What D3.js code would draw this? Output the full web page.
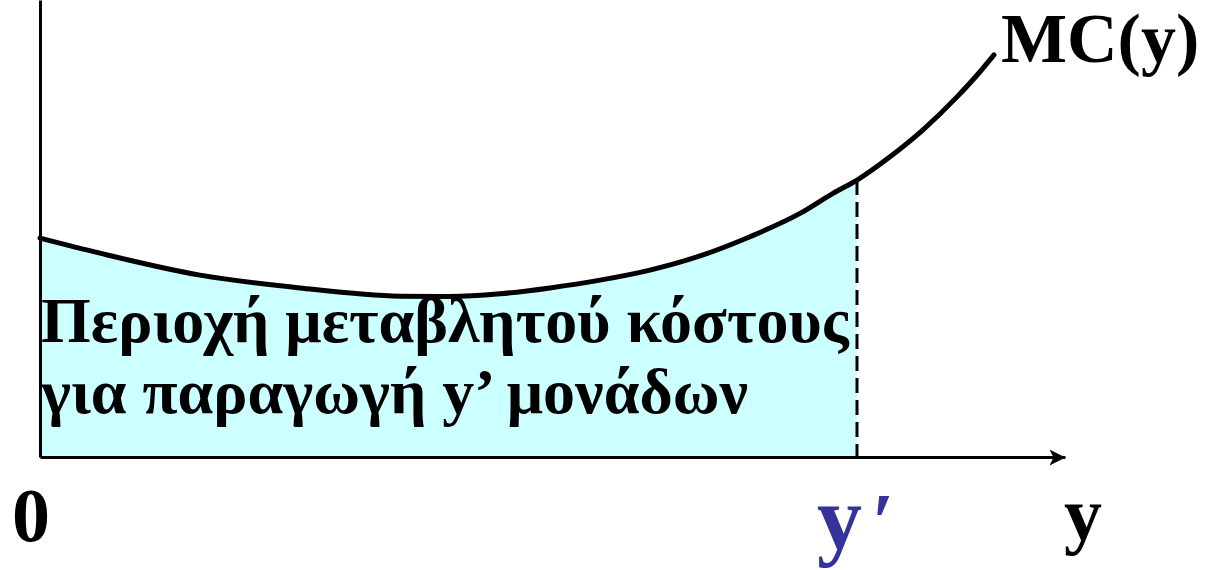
<!DOCTYPE html>
<meta charset="utf-8">
<style>
  body { margin: 0; background: #fff; }
  svg text { font-family: "Liberation Serif", "Times New Roman", serif; font-weight: bold; }
  .axis path { stroke: #000; stroke-width: 3; fill: none; }
</style>
<body>
<script src="https://cdnjs.cloudflare.com/ajax/libs/d3/7.8.5/d3.min.js"></script>
<script>
// output quantity and marginal cost
var quantity = [0, 0.6, 1.6, 2.6, 3.6, 4.1, 4.6, 5.1, 5.6, 6.1, 6.6, 7.1, 7.6, 7.93, 8.17, 8.5, 8.83, 9.17, 9.4, 9.54];
var marginalCost = [47.9, 44.6, 39.8, 37.0, 35.2, 35.1, 35.7, 37.0, 38.7, 40.9, 44.0, 48.2, 53.3, 57.7, 60.6, 65.7, 71.6, 78.8, 84.3, 88.0];
var yPrime = 8.17;
var areaLines = ["Περιοχή μεταβλητού κόστους", "για παραγωγή y’ μονάδων"];
var curveLabel = "MC(y)";
var xLabels = ["0", "y", "′", "y"];

var W = 1218, H = 570;
var x = d3.scaleLinear().domain([0, 10.25]).range([40, 1065]);
var y = d3.scaleLinear().domain([0, 100]).range([457, 0]);

var svg = d3.select("body").append("svg")
  .attr("width", W)
  .attr("height", H);

var data = quantity.map(function (q, i) { return {q: q, c: marginalCost[i]}; });

var defs = svg.append("defs");
defs.append("clipPath")
  .attr("id", "upto")
  .append("rect")
  .attr("x", x(0)).attr("y", 0)
  .attr("width", x(yPrime) - x(0)).attr("height", y(0));

var marker = defs.append("marker")
  .attr("id", "arrow")
  .attr("viewBox", "0 0 16 16")
  .attr("refX", 16).attr("refY", 8)
  .attr("markerWidth", 16).attr("markerHeight", 16)
  .attr("markerUnits", "userSpaceOnUse")
  .attr("orient", "auto");
marker.append("path").attr("d", "M0,0 L16,8 L0,16 L4,8 Z").attr("fill", "#000");

// shaded area (variable cost)
var area = d3.area()
  .x(function (d) { return x(d.q); })
  .y0(y(0))
  .y1(function (d) { return y(d.c); })
  .curve(d3.curveMonotoneX);

svg.append("path")
  .datum(data)
  .attr("clip-path", "url(#upto)")
  .attr("fill", "#ccffff")
  .attr("d", area);

// axes
svg.append("g")
  .attr("class", "axis")
  .attr("transform", "translate(0," + y(0) + ")")
  .call(d3.axisBottom(x).tickValues([]).tickSizeOuter(0))
  .select(".domain").attr("marker-end", "url(#arrow)");

svg.append("g")
  .attr("class", "axis")
  .attr("transform", "translate(" + x(0) + ",0)")
  .call(d3.axisLeft(y).tickValues([]).tickSizeOuter(0));

// dashed line at y'
var mcAtPrime = data.find(function (d) { return d.q === yPrime; }).c;
svg.append("line")
  .attr("x1", x(yPrime)).attr("x2", x(yPrime))
  .attr("y1", y(mcAtPrime)).attr("y2", y(0))
  .attr("stroke", "#000")
  .attr("stroke-width", 3)
  .attr("stroke-dasharray", "15,7");

// MC curve
var line = d3.line()
  .x(function (d) { return x(d.q); })
  .y(function (d) { return y(d.c); })
  .curve(d3.curveMonotoneX);

svg.append("path")
  .datum(data)
  .attr("fill", "none")
  .attr("stroke", "#000")
  .attr("stroke-width", 5)
  .attr("stroke-linecap", "round")
  .attr("d", line);

// labels
svg.append("text")
  .attr("x", 1001).attr("y", 62)
  .attr("font-size", 70)
  .text(curveLabel);

svg.selectAll(".area-text")
  .data(areaLines)
  .enter().append("text")
  .attr("class", "area-text")
  .attr("x", 41)
  .attr("y", function (d, i) { return 342 + i * 71; })
  .attr("font-size", 64)
  .text(function (d) { return d; });

svg.append("text")
  .attr("x", 31).attr("y", 541)
  .attr("text-anchor", "middle")
  .attr("font-size", 76)
  .text(xLabels[0]);

var yp = svg.append("text")
  .attr("x", 817).attr("y", 549)
  .attr("font-size", 90)
  .attr("fill", "#333399");
yp.append("tspan").text(xLabels[1]);
yp.append("tspan").attr("dx", 10).attr("font-size", 80).text(xLabels[2]);

svg.append("text")
  .attr("x", 1064).attr("y", 540)
  .attr("font-size", 76)
  .text(xLabels[3]);
</script>
</body>
